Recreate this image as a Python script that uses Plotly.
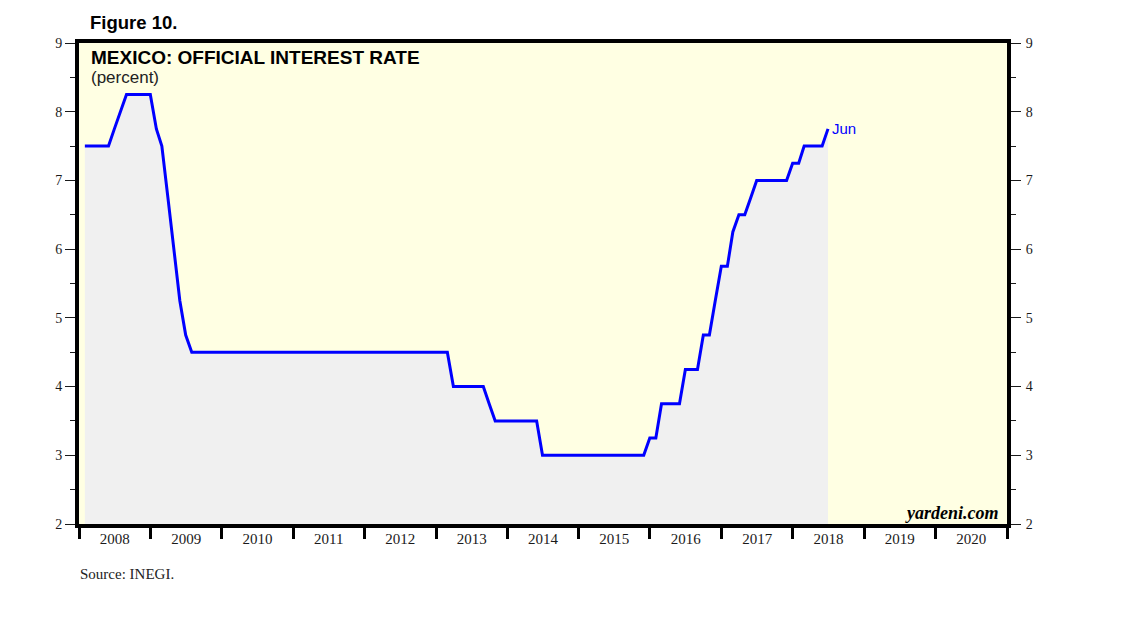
import pandas as pd
import plotly.graph_objects as go

# Monthly official interest rate (percent), Jan 2008 - Jun 2018
months = pd.date_range("2008-01-31", "2018-06-30", freq="ME")
rate = (
    [7.5, 7.5, 7.5, 7.5, 7.5, 7.75, 8.0, 8.25, 8.25, 8.25, 8.25, 8.25]      # 2008
    + [7.75, 7.5, 6.75, 6.0, 5.25, 4.75, 4.5, 4.5, 4.5, 4.5, 4.5, 4.5]     # 2009
    + [4.5] * 12                                                           # 2010
    + [4.5] * 12                                                           # 2011
    + [4.5] * 12                                                           # 2012
    + [4.5, 4.5, 4.0, 4.0, 4.0, 4.0, 4.0, 4.0, 3.75, 3.5, 3.5, 3.5]        # 2013
    + [3.5, 3.5, 3.5, 3.5, 3.5, 3.0, 3.0, 3.0, 3.0, 3.0, 3.0, 3.0]         # 2014
    + [3.0, 3.0, 3.0, 3.0, 3.0, 3.0, 3.0, 3.0, 3.0, 3.0, 3.0, 3.25]        # 2015
    + [3.25, 3.75, 3.75, 3.75, 3.75, 4.25, 4.25, 4.25, 4.75, 4.75, 5.25, 5.75]  # 2016
    + [5.75, 6.25, 6.5, 6.5, 6.75, 7.0, 7.0, 7.0, 7.0, 7.0, 7.0, 7.25]     # 2017
    + [7.25, 7.5, 7.5, 7.5, 7.5, 7.75]                                     # 2018
)
last_label = "Jun"
x_range = ["2008-01-01", "2021-01-01"]
y_range = [2, 9]

W, H = 1138, 621
OFF = 8  # default page body margin
L, R, T, B = 79, 1007, 43, 524

def px(x):
    return (x - L) / (R - L)

def py(y):
    return (B - y) / (B - T)

serif = "Liberation Serif, Times New Roman, serif"
sans = "Liberation Sans, Arial, sans-serif"
tick_color = "#1a1a1a"

fig = go.Figure()
fig.add_trace(go.Scatter(
    x=months, y=rate, mode="lines",
    line=dict(color="#0000FF", width=3),
    fill="tozeroy", fillcolor="#F0F0F0",
    hoverinfo="skip", showlegend=False,
))
# invisible trace to activate the label x-axis and the right y-axis
fig.add_trace(go.Scatter(x=[months[0]], y=[rate[0]], xaxis="x2", yaxis="y2", mode="lines",
                         line=dict(width=0), showlegend=False, hoverinfo="skip"))

yaxis_common = dict(
    range=y_range, dtick=1, tick0=0, showgrid=False, zeroline=False,
    ticks="outside", ticklen=10, tickwidth=1, tickcolor=tick_color,
    tickfont=dict(family=serif, size=14, color=tick_color),
    minor=dict(dtick=0.5, ticks="outside", ticklen=5, tickwidth=1, tickcolor=tick_color),
    showline=True, linecolor="black", linewidth=4,
)

fig.update_layout(
    width=W, height=H,
    margin=dict(l=L - OFF, r=W - R + OFF, t=T - OFF, b=H - B + OFF),
    paper_bgcolor="white", plot_bgcolor="#FFFFE3",
    xaxis=dict(
        type="date", range=x_range, dtick="M12", tick0="2008-01-01",
        showticklabels=False,
        ticks="outside", ticklen=11, tickwidth=3, tickcolor="black",
        showgrid=False, zeroline=False,
        showline=True, linecolor="black", linewidth=4, mirror=True,
    ),
    xaxis2=dict(
        type="date", range=x_range, dtick="M12", tick0="2008-01-01",
        tickformat="%Y", ticklabelmode="period", overlaying="x", side="bottom", anchor="y",
        ticks="", showline=False, showgrid=False, zeroline=False, ticklabelstandoff=4,
        tickfont=dict(family=serif, size=15, color=tick_color),
    ),
    yaxis=dict(side="left", **yaxis_common),
    yaxis2=dict(side="right", overlaying="y", ticklabelstandoff=2, **yaxis_common),
    showlegend=False,
)

annotations = [
    dict(text="<b>Figure 10.</b>", x=px(88), y=py(22), xanchor="left", yanchor="middle",
         font=dict(family=sans, size=18.5, color="black")),
    dict(text="<b>MEXICO: OFFICIAL INTEREST RATE</b>", x=px(89), y=py(57), xanchor="left",
         yanchor="middle", font=dict(family=sans, size=19, color="black")),
    dict(text="(percent)", x=px(89), y=py(77), xanchor="left", yanchor="middle",
         font=dict(family=sans, size=17, color="#222")),
    dict(text="<b><i>yardeni.com</i></b>", x=px(1001), y=py(513), xanchor="right",
         yanchor="middle", font=dict(family=serif, size=18, color="black")),
    dict(text="Source: INEGI.", x=px(78), y=py(574), xanchor="left", yanchor="middle",
         font=dict(family=serif, size=15, color="#222")),
]
for a in annotations:
    a.update(xref="paper", yref="paper", showarrow=False)
    fig.add_annotation(**a)

fig.add_annotation(x=months[-1], y=rate[-1], xref="x", yref="y", text=last_label,
                   showarrow=False, xanchor="left", yanchor="middle", xshift=2,
                   font=dict(family=sans, size=15, color="#0000FF"))

fig.write_html("out.html")
